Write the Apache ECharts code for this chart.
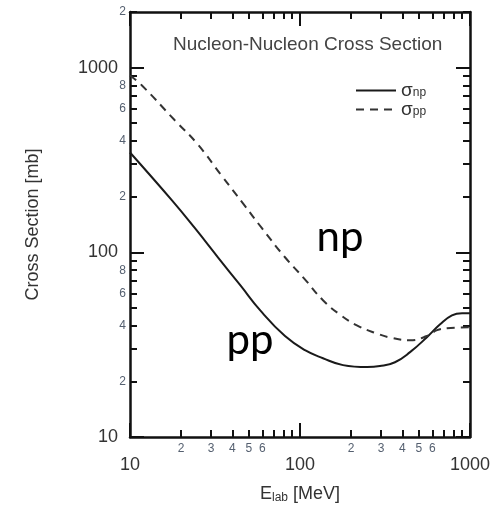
<!DOCTYPE html>
<html>
<head>
<meta charset="utf-8">
<script src="https://cdn.jsdelivr.net/npm/echarts@6/dist/echarts.min.js"></script>
<style>html,body{margin:0;padding:0;background:#fff}#c{width:498px;height:507px}</style>
</head>
<body>
<div id="c"></div>
<script>
// Data
const energyNp = [10, 17.66, 24.1, 32.9, 45, 58.2, 81.6, 107, 136.5, 179, 248, 295, 362, 444, 558, 667, 783, 898, 1000];
const sigmaNp  = [347, 191, 135, 94, 65.5, 48.6, 35.2, 29.5, 26.7, 24.5, 23.9, 24.2, 25.4, 28.8, 34.7, 40.8, 45.6, 46.8, 46.8];
const energyPp = [10, 11.76, 18.4, 24.8, 34.8, 46.2, 59.7, 81.6, 105.6, 136.5, 171.8, 216, 283.8, 338, 444, 558, 640, 733, 1000];
const sigmaPp  = [906, 800, 517, 388, 258, 184, 135, 94, 72.3, 55.0, 46.0, 40.2, 36.3, 34.6, 33.4, 35.2, 37.9, 38.8, 39.3];

const xMajorTicks = [10, 100, 1000];
const xMinorTicks = [20, 30, 40, 50, 60, 70, 80, 90, 200, 300, 400, 500, 600, 700, 800, 900];
const xMinorLabels = [20, 30, 40, 50, 60, 200, 300, 400, 500, 600];
const yMajorTicks = [10, 100, 1000];
const yMinorTicks = [20, 30, 40, 50, 60, 70, 80, 90, 200, 300, 400, 500, 600, 700, 800, 900, 2000];
const yMinorLabels = [20, 40, 60, 80, 200, 400, 600, 800, 2000];

const titleText = 'Nucleon-Nucleon Cross Section';
const annotations = [{ text: 'np', E: 172, s: 120 }, { text: 'pp', E: 50.8, s: 33.2 }];

const FONT = 'Liberation Sans, Arial, sans-serif';
const mantissa = v => String(Math.round(v / Math.pow(10, Math.floor(Math.log10(v) + 1e-9))));

function mkAxis(kind, pos, major, opts) {
  const isX = kind === 'x';
  const base = {
    type: 'log', logBase: 10, min: 10, max: isX ? 1000 : 2000, position: pos,
    splitLine: { show: false }, minorTick: { show: false },
    axisLine: { show: !!opts.line, onZero: false, lineStyle: { color: '#111', width: 2.5 } },
    axisTick: { show: true, inside: true, customValues: opts.ticks, length: major ? 14 : 7, lineStyle: { color: '#111', width: 2 } },
    axisLabel: { show: !!opts.labels }
  };
  if (opts.labels) {
    base.axisLabel = {
      show: true, customValues: opts.labels,
      formatter: major ? (v => String(Math.round(v))) : mantissa,
      fontFamily: FONT, fontSize: major ? 18 : 12, color: major ? '#333' : '#556070',
      margin: major ? (isX ? 19 : 12) : (isX ? 6 : 4)
    };
  }
  return Object.assign(base, opts.extra || {});
}

const chart = echarts.init(document.getElementById('c'), null, { renderer: 'canvas' });
chart.setOption({
  animation: false,
  backgroundColor: '#fff',
  title: { text: titleText, left: 168, top: 30, textStyle: { fontFamily: FONT, fontSize: 19, fontWeight: 'normal', color: '#444' } },
  legend: {
    left: 355, top: 81, padding: 0, orient: 'vertical', itemWidth: 40, itemHeight: 14, itemGap: 0,
    data: ['np', 'pp'],
    itemStyle: { opacity: 0 },
    formatter: n => '{a|σ}{b|' + n + '}',
    textStyle: { fontFamily: FONT, color: '#333', rich: {
      a: { fontSize: 19, lineHeight: 17, fontFamily: FONT, color: '#333' },
      b: { fontSize: 12, lineHeight: 10, verticalAlign: 'bottom', fontFamily: FONT, color: '#333' } } }
  },
  grid: { left: 130, right: 28, top: 12, bottom: 70, containLabel: false, outerBoundsMode: 'none' },
  xAxis: [
    mkAxis('x', 'bottom', true, { line: true, ticks: xMajorTicks, labels: xMajorTicks, extra: {
      name: '{a|E}{b|lab}{a| [MeV]}', nameLocation: 'middle', nameGap: 47,
      nameTextStyle: { rich: { a: { fontFamily: FONT, fontSize: 18, color: '#333' }, b: { fontFamily: FONT, fontSize: 12, color: '#333', padding: [8, 0, 0, 0] } } } } }),
    mkAxis('x', 'bottom', false, { ticks: xMinorTicks, labels: xMinorLabels }),
    mkAxis('x', 'top', true, { line: true, ticks: xMajorTicks }),
    mkAxis('x', 'top', false, { ticks: xMinorTicks })
  ],
  yAxis: [
    mkAxis('y', 'left', true, { line: true, ticks: yMajorTicks, labels: yMajorTicks, extra: {
      name: 'Cross Section [mb]', nameLocation: 'middle', nameGap: 88, nameRotate: 90,
      nameTextStyle: { fontFamily: FONT, fontSize: 18, color: '#333' } } }),
    mkAxis('y', 'left', false, { ticks: yMinorTicks, labels: yMinorLabels }),
    mkAxis('y', 'right', true, { line: true, ticks: yMajorTicks }),
    mkAxis('y', 'right', false, { ticks: yMinorTicks })
  ],
  series: [
    {
      name: 'np', type: 'line', xAxisIndex: 0, yAxisIndex: 0, smooth: 0.45, symbol: 'none',
      data: energyNp.map((e, i) => [e, sigmaNp[i]]),
      lineStyle: { color: '#1a1a1a', width: 2, type: 'solid' }, itemStyle: { color: '#1a1a1a' },
      markPoint: {
        symbol: 'circle', symbolSize: 0,
        label: { show: true, position: 'inside', fontFamily: 'Lato, sans-serif', fontSize: 42, color: '#000', formatter: p => p.name },
        data: annotations.map(a => ({ name: a.text, coord: [a.E, a.s] }))
      }
    },
    {
      name: 'pp', type: 'line', xAxisIndex: 0, yAxisIndex: 0, smooth: 0.45, symbol: 'none',
      data: energyPp.map((e, i) => [e, sigmaPp[i]]),
      lineStyle: { color: '#333', width: 2, type: [8, 6] }, itemStyle: { color: '#333' }
    }
  ]
});
</script>
</body>
</html>
